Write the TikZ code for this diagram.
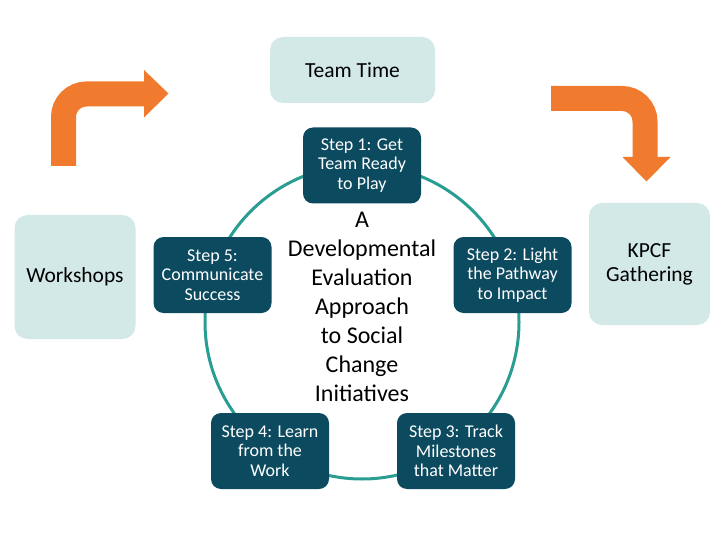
\documentclass[tikz,border=0pt]{standalone}
\usepackage{fontspec}
\setmainfont{Carlito}
\definecolor{lightbox}{HTML}{D2E9E7}
\definecolor{darkbox}{HTML}{0C4A5F}
\definecolor{ring}{HTML}{2A9D93}
\definecolor{arroworange}{HTML}{F07B2E}
\begin{document}
\begin{tikzpicture}[x=1pt,y=-1pt,
  lightnode/.style={fill=lightbox, rounded corners=13pt, align=center, inner sep=0pt,
    font=\fontsize{21.5}{24}\selectfont, text=black},
  stepnode/.style={fill=darkbox, rounded corners=10pt, align=center, inner sep=0pt,
    minimum width=118pt, minimum height=76pt, text=white,
    font=\fontsize{18}{19.5}\selectfont},
  ringline/.style={draw=ring, line width=3pt},
  bigarrow/.style={draw=arroworange, line width=25pt, rounded corners=23pt},
  arrowhead/.style={fill=arroworange}]
\useasboundingbox (0,0) rectangle (720,540);
% ring
\coordinate (ctr) at (362,322);
\draw[ringline] (ctr) circle (157pt);
% boxes
\node[lightnode, minimum width=165pt, minimum height=66pt] (team) at (352.5,70) {Team Time};
\node[lightnode, minimum width=121pt, minimum height=124pt] (work) at (75,277) {Workshops};
\node[lightnode, minimum width=121pt, minimum height=122pt] (kpcf) at (649.5,264) {KPCF\\Gathering};
\node[stepnode] (s1) at (362,165.5) {Step 1: Get\\Team Ready\\to Play};
\node[stepnode] (s2) at (512.5,275) {Step 2: Light\\the Pathway\\to Impact};
\node[stepnode] (s3) at (456,451) {Step 3: Track\\Milestones\\that Matter};
\node[stepnode] (s4) at (270,451) {Step 4: Learn\\from the\\Work};
\node[stepnode] (s5) at (212.5,275) {Step 5:\\Communicate\\Success};
\node[align=center, font=\fontsize{24}{29}\selectfont, inner sep=0pt] (title) at (362,307)
  {A\\Developmental\\Evaluation\\Approach\\to Social\\Change\\Initiatives};
% left orange arrow
\coordinate (la0) at (63.5,166);
\coordinate (la1) at (63.5,94);
\coordinate (la2) at (144.5,94);
\draw[bigarrow] (la0) -- (la1) -- (la2);
\fill[arrowhead] (144,70) -- (168.5,93.5) -- (144,117.5) -- cycle;
% right orange arrow
\coordinate (ra0) at (551,98.5);
\coordinate (ra1) at (645,98.5);
\coordinate (ra2) at (645,157.5);
\draw[bigarrow] (ra0) -- (ra1) -- (ra2);
\fill[arrowhead] (622.5,157) -- (670.5,157) -- (646.5,181.5) -- cycle;
\end{tikzpicture}
\end{document}
